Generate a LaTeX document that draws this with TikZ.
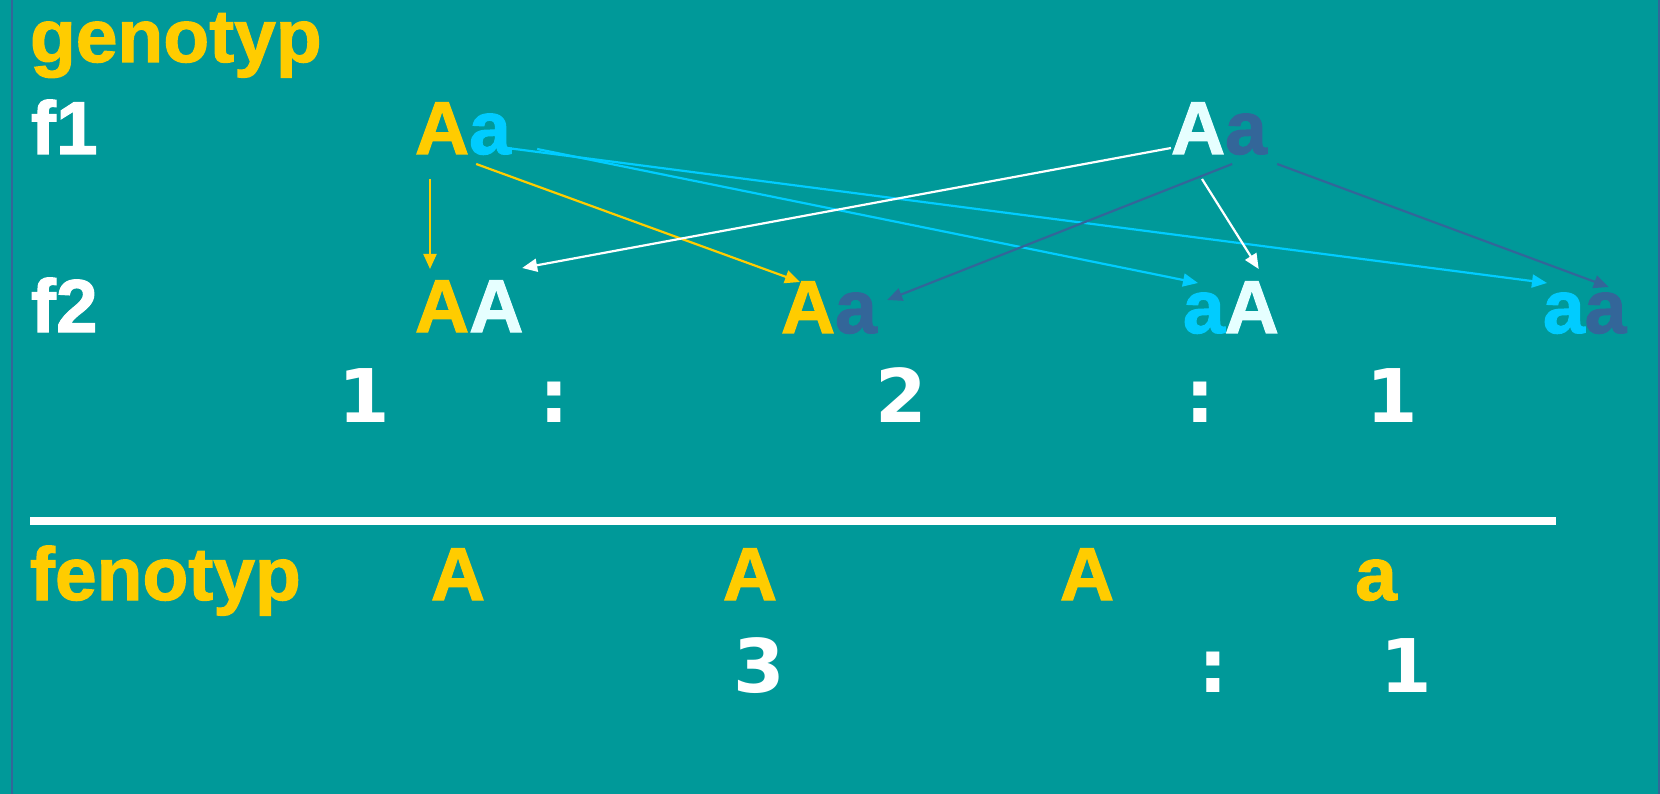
\documentclass[tikz,border=0pt]{standalone}
\usepackage{fontspec}
\setmainfont{Liberation Sans}[BoldFeatures={FakeBold=1.5}]
\newfontfamily\numfont{DejaVu Sans}
\usetikzlibrary{arrows.meta}
\definecolor{bgteal}{HTML}{009999}
\definecolor{gold}{HTML}{FFCC00}
\definecolor{skyc}{HTML}{00CCFF}
\definecolor{slate}{HTML}{336699}
\definecolor{pale}{HTML}{E6FFFF}
\begin{document}
\begin{tikzpicture}[x=1pt,y=-1pt,
  txt/.style={inner sep=0pt, outer sep=0pt, anchor=base west,
    font=\fontsize{75}{80}\selectfont\bfseries},
  allele/.style={txt},
  pheno/.style={txt, anchor=base, text=gold},
  num/.style={inner sep=0pt, outer sep=0pt, anchor=base, text=white,
    font=\fontsize{74}{80}\selectfont\numfont\bfseries},
  link/.style={line width=2.2pt, -{Triangle[length=15pt,width=13pt]}},
]
% background and frame edges
\fill[bgteal] (0,0) rectangle (1660,794);
\useasboundingbox (0,0) rectangle (1660,794);
\draw[slate, line width=2.5pt] (12,0) -- (12,794);
\draw[slate, line width=1.5pt] (1659,0) -- (1659,794);

% row labels
\node[txt, text=gold]  (lgen) at (30,62)  {genotyp};
\node[txt, text=white] (lf1)  at (31,154) {f1};
\node[txt, text=white] (lf2)  at (31,332) {f2};
\node[txt, text=gold]  (lfen) at (30,600) {fenotyp};

% parents (f1)
\node[allele, text=gold]  (p1A) at (415,154) {A};
\node[allele, text=skyc]  (p1a) at (p1A.base east) {a};
\node[allele, text=pale]  (p2A) at (1171,154) {A};
\node[allele, text=slate] (p2a) at (p2A.base east) {a};

% offspring (f2)
\node[allele, text=gold]  (g1A) at (415,332) {A};
\node[allele, text=pale]  (g1B) at (g1A.base east) {A};
\node[allele, text=gold]  (g2A) at (781,333) {A};
\node[allele, text=slate] (g2a) at (g2A.base east) {a};
\node[allele, text=skyc]  (g3a) at (1183,333) {a};
\node[allele, text=pale]  (g3A) at (g3a.base east) {A};
\node[allele, text=skyc]  (g4a) at (1543,333) {a};
\node[allele, text=slate] (g4b) at (g4a.base east) {a};

% genotype ratio
\node[num] (r1) at (364,422)  {1};
\node[num] (c1) at (554,422)  {:};
\node[num] (r2) at (901,422)  {2};
\node[num] (c2) at (1200,422) {:};
\node[num] (r3) at (1392,422) {1};

% divider
\draw[white, line width=8pt] (30,521) -- (1556,521);

% phenotypes
\node[pheno] (f1A) at (458,600)  {A};
\node[pheno] (f2A) at (750,600)  {A};
\node[pheno] (f3A) at (1087,600) {A};
\node[pheno] (f4a) at (1376,600) {a};

% phenotype ratio
\node[num] (s1) at (759,692)  {3};
\node[num] (s2) at (1213,692) {:};
\node[num] (s3) at (1406,692) {1};

% allele transfer arrows
\draw[link, gold]  ([shift={(15,25)}]p1A.base west) -- ([shift={(15,-63)}]g1A.base west);
\draw[link, gold]  ([shift={(7,10)}]p1a.base west)  -- ([shift={(19,-51)}]g2A.base west);
\draw[link, skyc]  ([shift={(38,-6)}]p1a.base west) -- ([shift={(4,-50)}]g4a.base west);
\draw[link, skyc]  ([shift={(68,-5)}]p1a.base west) -- ([shift={(15,-50)}]g3a.base west);
\draw[link, white] ([shift={(0,-6)}]p2A.base west)  -- ([shift={(53,-64)}]g1B.base west);
\draw[link, slate] ([shift={(7,10)}]p2a.base west)  -- ([shift={(52,-33)}]g2a.base west);
\draw[link, white] ([shift={(31,25)}]p2A.base west) -- ([shift={(34,-64)}]g3A.base west);
\draw[link, slate] ([shift={(52,10)}]p2a.base west) -- ([shift={(24,-46)}]g4b.base west);
\end{tikzpicture}
\end{document}
